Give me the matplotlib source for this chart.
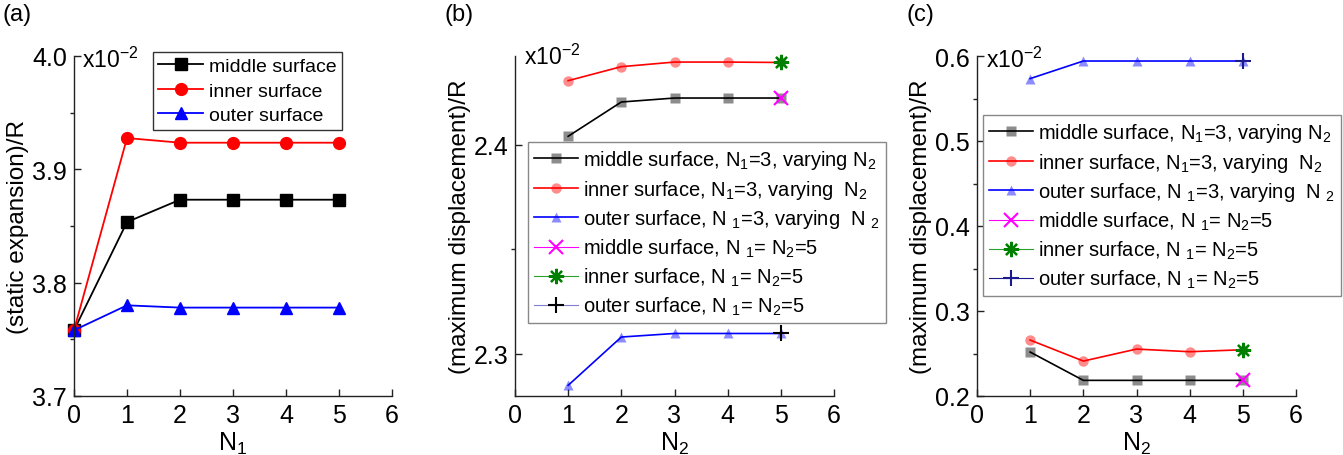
import matplotlib
matplotlib.use("Agg")
import matplotlib.pyplot as plt
from matplotlib.ticker import MultipleLocator, FormatStrFormatter

plt.rcParams['font.family'] = ['Liberation Sans', 'DejaVu Sans']
plt.rcParams['mathtext.fontset'] = 'custom'
plt.rcParams['mathtext.rm'] = 'Liberation Sans'
plt.rcParams['mathtext.it'] = 'Liberation Sans:italic'
plt.rcParams['mathtext.bf'] = 'Liberation Sans:bold'

# ---------------- data ----------------
# (a) static expansion vs N1
n1 = [0, 1, 2, 3, 4, 5]
a_middle = [3.758, 3.8535, 3.8732, 3.8732, 3.8732, 3.8732]
a_inner = [3.758, 3.9276, 3.9235, 3.9235, 3.9235, 3.9235]
a_outer = [3.758, 3.780, 3.778, 3.778, 3.778, 3.778]

# (b) maximum displacement vs N2 (N1=3)
n2 = [1, 2, 3, 4, 5]
b_middle = [2.404, 2.4204, 2.4223, 2.4223, 2.4223]
b_inner = [2.4306, 2.4373, 2.4395, 2.4395, 2.4393]
b_outer = [2.2849, 2.3080, 2.3097, 2.3097, 2.3097]
b_middle55 = [2.4223]
b_inner55 = [2.4393]
b_outer55 = [2.3097]

# (c) maximum displacement vs N2 (N1=3)
c_middle = [0.2517, 0.2184, 0.2184, 0.2184, 0.2184]
c_inner = [0.2658, 0.2411, 0.2552, 0.2521, 0.2544]
c_outer = [0.5734, 0.5941, 0.5941, 0.5941, 0.5941]
c_middle55 = [0.2184]
c_inner55 = [0.2544]
c_outer55 = [0.5941]

x55 = [5]

labels_a = ['middle surface', 'inner surface', 'outer surface']
labels_bc = [
    r'middle surface, N$\mathregular{_1}$=3, varying N$\mathregular{_2}$',
    r'inner surface, N$\mathregular{_1}$=3, varying  N$\mathregular{_2}$',
    r'outer surface, N $\mathregular{_1}$=3, varying  N $\mathregular{_2}$',
    r'middle surface, N $\mathregular{_1}$= N$\mathregular{_2}$=5',
    r'inner surface, N $\mathregular{_1}$= N$\mathregular{_2}$=5',
    r'outer surface, N $\mathregular{_1}$= N$\mathregular{_2}$=5',
]

W, H = 1343, 456
fig = plt.figure(figsize=(W / 100, H / 100), dpi=100)


def fx(px):
    return px / W


def fy(py):
    return 1 - py / H


def make_ax(left, right, top=57, bottom=397):
    ax = fig.add_axes([fx(left), fy(bottom), fx(right - left), (bottom - top) / H])
    for s in ['top', 'right']:
        ax.spines[s].set_visible(False)
    for s in ['left', 'bottom']:
        ax.spines[s].set_color('#222222')
        ax.spines[s].set_linewidth(1.0)
    ax.tick_params(axis='x', which='major', direction='in', length=5, width=1,
                   labelsize=18, pad=5, color='#222222')
    ax.tick_params(axis='y', which='major', direction='in', length=5, width=1,
                   labelsize=18, pad=5, color='#222222')
    ax.tick_params(axis='y', which='minor', direction='out', length=3, width=1,
                   color='#222222')
    ax.tick_params(axis='x', which='minor', bottom=False)
    ax.set_xlim(0, 6)
    ax.xaxis.set_major_locator(MultipleLocator(1))
    ax.yaxis.set_major_formatter(FormatStrFormatter('%.1f'))
    ax.patch.set_alpha(0)
    return ax


# ---------- (a) ----------
axa = make_ax(74, 392)
axa.plot(n1, a_middle, '-s', color='black', lw=1.3, ms=8, clip_on=False, label=labels_a[0])
axa.plot(n1, a_inner, '-o', color='red', lw=1.3, ms=8.5, clip_on=False, label=labels_a[1])
axa.plot(n1, a_outer, '-^', color='blue', lw=1.3, ms=8.5, clip_on=False, label=labels_a[2])
axa.set_ylim(3.7, 4.0)
axa.yaxis.set_major_locator(MultipleLocator(0.1))
axa.yaxis.set_minor_locator(MultipleLocator(0.05))
axa.set_ylabel('(static expansion)/R', fontsize=17.5)
axa.yaxis.set_label_coords(-0.142, 0.5)
axa.set_xlabel(r'N$\mathregular{_1}$', fontsize=18, labelpad=2)
leg = axa.legend(loc='upper left', bbox_to_anchor=(fx(153), fy(53)),
                 bbox_transform=fig.transFigure, fontsize=14, frameon=True,
                 fancybox=False, edgecolor='black', handlelength=2.3,
                 labelspacing=0.36, borderpad=0.28, handletextpad=0.3, borderaxespad=0)
leg.get_frame().set_linewidth(1.0)
fig.text(fx(82), fy(48), r'x10$\mathregular{^{-2}}$', fontsize=16.5, va='top', ha='left')
fig.text(fx(3), fy(4), '(a)', fontsize=17, va='top', ha='left')

semi_k = (0, 0, 0, 0.45)
semi_r = (1, 0, 0, 0.45)
semi_b = (0, 0, 1, 0.45)


def draw_bc(ax, mid, inn, out, mid55, inn55, out55, plus_color, plus_line):
    ax.plot(n2, mid, '-', color='black', lw=1.2, marker='s', ms=6.5,
            mfc=semi_k, mec='none', clip_on=False, label=labels_bc[0])
    ax.plot(n2, inn, '-', color='red', lw=1.2, marker='o', ms=7.5,
            mfc=semi_r, mec='none', clip_on=False, label=labels_bc[1])
    ax.plot(n2, out, '-', color='blue', lw=1.2, marker='^', ms=7.5,
            mfc=semi_b, mec='none', clip_on=False, label=labels_bc[2])
    ax.plot(x55, mid55, '-', color='magenta', lw=0.8, marker='x', ms=10,
            mew=1.5, mec='magenta', clip_on=False, label=labels_bc[3])
    ax.plot(x55, inn55, '-', color='#2ca02c', lw=0.8, marker=(8, 2, 0), ms=11,
            mew=1.6, mec='green', clip_on=False, label=labels_bc[4])
    ax.plot(x55, out55, '-', color=plus_line, lw=0.8, marker='+', ms=11,
            mew=1.5, mec=plus_color, clip_on=False, label=labels_bc[5])
    ax.set_ylabel('(maximum displacement)/R', fontsize=17.5)
    ax.set_xlabel(r'N$\mathregular{_2}$', fontsize=18, labelpad=2)
    ax.yaxis.set_major_locator(MultipleLocator(0.1))
    ax.yaxis.set_minor_locator(MultipleLocator(0.05))


def bc_legend(ax, x, y):
    lg = ax.legend(loc='upper left', bbox_to_anchor=(fx(x), fy(y)),
                   bbox_transform=fig.transFigure, fontsize=14.5, frameon=True,
                   fancybox=False, edgecolor='#888888', handlelength=2.2,
                   labelspacing=0.33, borderpad=0.3, handletextpad=0.25,
                   borderaxespad=0, framealpha=1)
    lg.get_frame().set_linewidth(1.0)
    return lg


# ---------- (b) ----------
axb = make_ax(515, 834)
draw_bc(axb, b_middle, b_inner, b_outer, b_middle55, b_inner55, b_outer55,
        'black', '#8080d0')
axb.set_ylim(2.2798, 2.4424)
axb.yaxis.set_label_coords(-0.138, 0.5)
bc_legend(axb, 528, 143)
fig.text(fx(524), fy(45), r'x10$\mathregular{^{-2}}$', fontsize=16.5, va='top', ha='left')
fig.text(fx(445), fy(4), '(b)', fontsize=17, va='top', ha='left')

# ---------- (c) ----------
axc = make_ax(977, 1296)
draw_bc(axc, c_middle, c_inner, c_outer, c_middle55, c_inner55, c_outer55,
        '#1a1a8c', '#1a1a8c')
axc.set_ylim(0.2, 0.6)
axc.yaxis.set_label_coords(-0.141, 0.5)
bc_legend(axc, 983, 116)
fig.text(fx(986), fy(48), r'x10$\mathregular{^{-2}}$', fontsize=16.5, va='top', ha='left')
fig.text(fx(906), fy(4), '(c)', fontsize=17, va='top', ha='left')

fig.savefig('out.png', dpi=100)
